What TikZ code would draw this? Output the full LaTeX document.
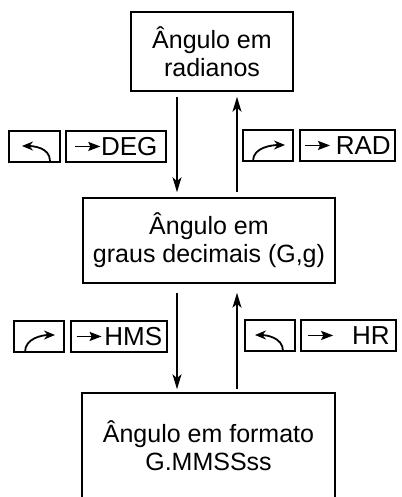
\documentclass[tikz,border=0pt]{standalone}
\usepackage{fontspec}
\setmainfont{Liberation Sans}
\usetikzlibrary{arrows.meta, calc}

\newcommand{\keyarr}[1][0pt]{\tikz[baseline=-9.3pt]\draw[line width=1.6pt, -{Stealth[length=12pt,width=9pt,inset=2pt]}] (0pt,0pt) -- (25pt,0pt);\hspace{#1}}

\begin{document}
\begin{tikzpicture}[x=1pt, y=-1pt,
    bigbox/.style={draw, line width=1.6pt, align=center, inner sep=0pt, font=\fontsize{25}{28}\selectfont},
    keybox/.style={draw, line width=1.5pt, inner sep=0pt, minimum height=31pt, text height=18.5pt, text depth=0pt, font=\fontsize{26}{28}\selectfont},
    shiftarr/.style={line width=1.8pt, -{Stealth[length=11pt,width=9pt]}},
    setafina/.style={line width=1.1pt, -{Stealth[length=15pt,width=9pt,inset=4pt]}},
    setagrossa/.style={line width=1.6pt, -{Stealth[length=15pt,width=9pt,inset=4pt]}}]
  \useasboundingbox (0,0) rectangle (401,497);
  \clip (0,0) rectangle (401,497);

  % Caixas dos formatos
  \node[bigbox, minimum width=162pt, minimum height=79pt] (rad) at (212,51.5) {Ângulo em\\radianos};
  \node[bigbox, minimum width=252pt, minimum height=85pt] (graus) at (209,240.5) {Ângulo em\\graus decimais (G,g)};
  \node[bigbox, minimum width=253pt, minimum height=105pt] (hms) at (208.5,445.5) {Ângulo em formato\\G.MMSSss};

  % Teclas (linha de cima)
  \node[keybox, minimum width=51pt] (azul1) at (34.5,146.5) {};
  \node[keybox, minimum width=100pt] (deg) at (116,146.5) {\keyarr DEG};
  \node[keybox, minimum width=50pt] (laranja1) at (268,145.5) {};
  \node[keybox, minimum width=95pt] (radk) at (347.5,145.5) {\keyarr[5pt]RAD};

  % Teclas (linha de baixo)
  \node[keybox, minimum width=50pt] (laranja2) at (39,336.5) {};
  \node[keybox, minimum width=96pt] (hmsk) at (119,336.5) {\keyarr[2pt]HMS};
  \node[keybox, minimum width=50pt] (azul2) at (270,335.5) {};
  \node[keybox, minimum width=95pt] (hr) at (348.5,335.5) {\keyarr[18pt]HR};

  % Setas das teclas de prefixo
  \draw[shiftarr] ($(azul1.center)+(15.5,14.5)$) .. controls +(0,-14) and +(10,0) .. ($(azul1.center)+(-12.5,-0.5)$);
  \draw[shiftarr] ($(laranja1.center)+(-15,15.5)$) .. controls +(0,-14) and +(-12,0) .. ($(laranja1.center)+(17,-0.5)$);
  \draw[shiftarr] ($(laranja2.center)+(-14,15.5)$) .. controls +(0,-14) and +(-12,0) .. ($(laranja2.center)+(16,-1.5)$);
  \draw[shiftarr] ($(azul2.center)+(13,15.5)$) .. controls +(0,-14) and +(10,0) .. ($(azul2.center)+(-15,-0.5)$);

  % Conversoes
  \coordinate (xd) at (177,0);
  \coordinate (xu) at (237,0);
  \draw[setafina, shorten <=5pt, shorten >=5pt] (rad.south -| xd) -- (graus.north -| xd);
  \draw[setagrossa, shorten <=5pt, shorten >=5pt] (graus.north -| xu) -- (rad.south -| xu);
  \draw[setafina, shorten <=9pt, shorten >=3pt] (graus.south -| xd) -- (hms.north -| xd);
  \draw[setagrossa, shorten <=3pt, shorten >=9pt] (hms.north -| xu) -- (graus.south -| xu);

\end{tikzpicture}
\end{document}
